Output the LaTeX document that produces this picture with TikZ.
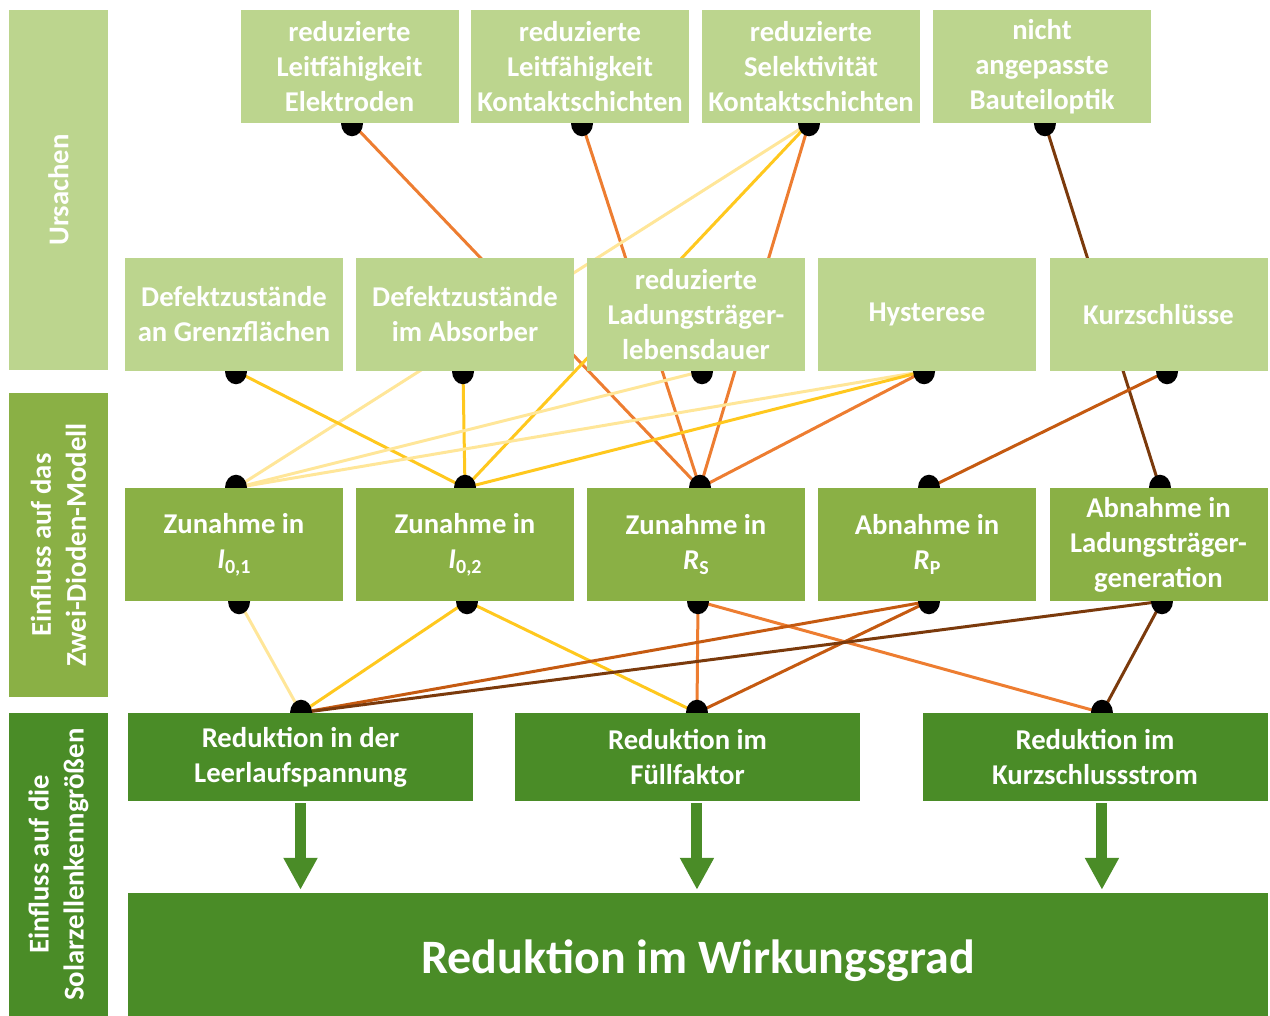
\documentclass[tikz,border=0pt]{standalone}
\usepackage{fontspec}
\setmainfont{Carlito}
\usetikzlibrary{arrows.meta}

\definecolor{lgreen}{HTML}{BCD58E}
\definecolor{mgreen}{HTML}{8AB045}
\definecolor{dgreen}{HTML}{4A8C27}
\definecolor{cLight}{HTML}{FFE699}
\definecolor{cYellow}{HTML}{FFC81E}
\definecolor{cOrange}{HTML}{ED7D31}
\definecolor{cDark}{HTML}{C55A11}
\definecolor{cBrown}{HTML}{7B3A0C}

\newcommand\subtxt[1]{\raisebox{-0.35ex}{\fontsize{15}{15}\selectfont #1}}

\pgfdeclarelayer{links}
\pgfdeclarelayer{dots}
\pgfsetlayers{links,dots,main}

\tikzset{
  box/.style 2 args={rectangle, inner sep=0pt, text=white, align=center,
    minimum width=#1*0.75pt, minimum height=#2*0.75pt,
    font=\bfseries\fontsize{21.5}{26.3}\selectfont},
  cause/.style={box={218}{113}, fill=lgreen},
  model/.style={box={218}{113}, fill=mgreen},
  param/.style={box={345}{88}, fill=dgreen},
  side/.style 2 args={box={#2}{99}, fill=#1, rotate=90},
  link/.style={line width=2.25pt, #1},
  pin/.style={fill=black},
  down/.style={dgreen, line width=8.25pt, -{Triangle[width=24pt,length=24pt]}}
}

\newcommand\pinat[1]{\fill[pin] (#1) ellipse [x radius=11, y radius=13];}

\begin{document}
\begin{tikzpicture}[x=0.75pt,y=-0.75pt]
\useasboundingbox (0,0) rectangle (1270,1016);

% side labels
\node[side={lgreen}{360}] (L1) at (58.5,190) {Ursachen};
\node[side={mgreen}{304}] (L2) at (58.5,545) {Einfluss auf das\\Zwei-Dioden-Modell};
\node[side={dgreen}{303}] (L3) at (58.5,864.5) {Einfluss auf die\\Solarzellenkenngrößen};

% causes, first row
\node[cause] (T1) at (349.5,66.5) {reduzierte\\Leitfähigkeit\\Elektroden};
\node[cause] (T2) at (580,66.5) {reduzierte\\Leitfähigkeit\\Kontaktschichten};
\node[cause] (T3) at (811,66.5) {reduzierte\\Selektivität\\Kontaktschichten};
\node[cause] (T4) at (1042,66.5) {nicht\\angepasste\\Bauteiloptik};

% causes, second row
\node[cause] (M1) at (234,314.5) {Defektzustände\\an Grenzflächen};
\node[cause] (M2) at (465,314.5) {Defektzustände\\im Absorber};
\node[cause] (M3) at (696,314.5) {reduzierte\\Ladungsträger-\\lebensdauer};
\node[cause] (M4) at (927,314.5) {Hysterese};
\node[cause] (M5) at (1158.5,314.5) {Kurzschlüsse};

% two-diode model
\node[model] (B1) at (234,544.5) {Zunahme in\\\textit{I}\subtxt{0,1}};
\node[model] (B2) at (465,544.5) {Zunahme in\\\textit{I}\subtxt{0,2}};
\node[model] (B3) at (696,544.5) {Zunahme in\\\textit{R}\subtxt{S}};
\node[model] (B4) at (927,544.5) {Abnahme in\\\textit{R}\subtxt{P}};
\node[model] (B5) at (1158.5,544.5) {Abnahme in\\Ladungsträger-\\generation};

% solar cell parameters
\node[param] (C1) at (300.5,757) {Reduktion in der\\Leerlaufspannung};
\node[param] (C2) at (687.5,757) {Reduktion im\\Füllfaktor};
\node[param] (C3) at (1095,757) {Reduktion im\\Kurzschlussstrom};

\node[box={1140}{123}, fill=dgreen, font=\bfseries\fontsize{36}{42}\selectfont] (E) at (698,954.5) {\raisebox{-13.9pt}[0pt][0pt]{Reduktion im Wirkungsgrad}};

% connection points
\coordinate (t1) at ([xshift=1.9pt]T1.south);
\coordinate (t2) at ([xshift=1.5pt]T2.south);
\coordinate (t3) at ([xshift=-1.5pt]T3.south);
\coordinate (t4) at ([xshift=2.2pt]T4.south);
\coordinate (m1) at ([xshift=1.5pt]M1.south);
\coordinate (m2) at ([xshift=-1.5pt]M2.south);
\coordinate (m3) at ([xshift=4.5pt]M3.south);
\coordinate (m4) at ([xshift=-2.2pt]M4.south);
\coordinate (m5) at ([xshift=6.4pt]M5.south);
\coordinate (b1n) at ([xshift=1.5pt]B1.north);
\coordinate (b2n) at (B2.north);
\coordinate (b3n) at ([xshift=3pt]B3.north);
\coordinate (b4n) at ([xshift=1.5pt]B4.north);
\coordinate (b5n) at ([xshift=1.1pt]B5.north);
\coordinate (b1s) at ([xshift=3.8pt]B1.south);
\coordinate (b2s) at ([xshift=1.5pt]B2.south);
\coordinate (b3s) at ([xshift=1.5pt]B3.south);
\coordinate (b4s) at ([xshift=1.5pt]B4.south);
\coordinate (b5s) at ([xshift=2.6pt]B5.south);
\coordinate (c1) at ([xshift=0.4pt]C1.north);
\coordinate (c2) at ([xshift=7.1pt]C2.north);
\coordinate (c3) at ([xshift=5.2pt]C3.north);
\coordinate (c1b) at ([yshift=-1.5pt]C1.south);
\coordinate (c2b) at ([xshift=7.1pt,yshift=-1.5pt]C2.south);
\coordinate (c3b) at ([xshift=5.2pt,yshift=-1.5pt]C3.south);
\coordinate (e1) at ([yshift=2.2pt]E.north -| c1b);
\coordinate (e2) at ([yshift=2.2pt]E.north -| c2b);
\coordinate (e3) at ([yshift=2.2pt]E.north -| c3b);

\begin{pgfonlayer}{links}
  % causes to the two-diode model
  \draw[link=cOrange] (t1) -- (b3n);
  \draw[link=cOrange] (t2) -- (b3n);
  \draw[link=cLight]  (t3) -- (b1n);
  \draw[link=cYellow] (t3) -- (b2n);
  \draw[link=cOrange] (t3) -- (b3n);
  \draw[link=cBrown]  (t4) -- (b5n);
  \draw[link=cYellow] (m1) -- (b2n);
  \draw[link=cYellow] (m2) -- (b2n);
  \draw[link=cLight]  (m3) -- (b1n);
  \draw[link=cLight]  (m4) -- (b1n);
  \draw[link=cYellow] (m4) -- (b2n);
  \draw[link=cOrange] (m4) -- (b3n);
  \draw[link=cDark]   (m5) -- (b4n);
  % two-diode model to solar cell parameters
  \draw[link=cLight]  (b1s) -- (c1);
  \draw[link=cYellow] (b2s) -- (c1);
  \draw[link=cYellow] (b2s) -- (c2);
  \draw[link=cOrange] (b3s) -- (c2);
  \draw[link=cOrange] (b3s) -- (c3);
  \draw[link=cDark]   (b4s) -- (c1);
  \draw[link=cDark]   (b4s) -- (c2);
  \draw[link=cBrown]  (b5s) -- (c1);
  \draw[link=cBrown]  (b5s) -- (c3);
\end{pgfonlayer}

\begin{pgfonlayer}{dots}
  \foreach \p in {t1,t2,t3,t4,m1,m2,m3,m4,m5,b1n,b2n,b3n,b4n,b5n,b1s,b2s,b3s,b4s,b5s,c1,c2,c3}
    {\pinat{\p}}
\end{pgfonlayer}

% arrows into the efficiency box
\draw[down] (c1b) -- (e1);
\draw[down] (c2b) -- (e2);
\draw[down] (c3b) -- (e3);
\end{tikzpicture}
\end{document}
